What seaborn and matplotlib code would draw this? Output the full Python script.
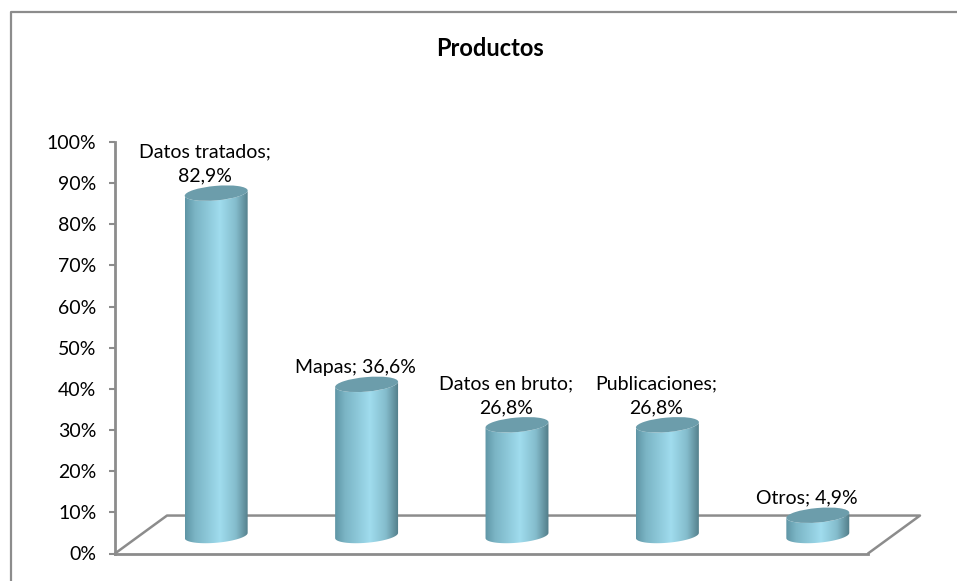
import numpy as np
import pandas as pd
import seaborn as sns
import matplotlib.pyplot as plt
from matplotlib.colors import LinearSegmentedColormap
from matplotlib.lines import Line2D
from matplotlib.patches import Ellipse
from matplotlib.path import Path
from matplotlib.transforms import IdentityTransform

categories = ["Datos tratados", "Mapas", "Datos en bruto", "Publicaciones", "Otros"]
values = [82.9, 36.6, 26.8, 26.8, 4.9]
labels = ["Datos tratados;\n82,9%", "Mapas; 36,6%", "Datos en bruto;\n26,8%", "Publicaciones;\n26,8%", "Otros; 4,9%"]
yticks = [0, 10, 20, 30, 40, 50, 60, 70, 80, 90, 100]
ytick_labels = ["0%", "10%", "20%", "30%", "40%", "50%", "60%", "70%", "80%", "90%", "100%"]

W, H = 957, 581
GRAY = "#8c8c8c"
ELL_H = 14.5
ELL_ANGLE = 5

sns.set_style("white")
plt.rcParams["font.family"] = ["Lato", "DejaVu Sans"]

fig = plt.figure(figsize=(W / 100, H / 100), dpi=100)
fig.patch.set_facecolor("white")

# only the top and left of the chart frame fall inside the picture
fig.add_artist(Line2D([10.5 / W, 10.5 / W, 1], [0, 1 - 11.5 / H, 1 - 11.5 / H], transform=fig.transFigure,
                      color=GRAY, linewidth=1.6))
fig.text(490.5 / W, 1 - 56 / H, "Productos", ha="center", va="baseline", fontsize=17, fontweight="bold", color="black")

# axis and floor
ax = fig.add_axes([115 / W, 1 - 553.5 / H, 753 / W, 411.5 / H])
ax.set_xlim(0, 1)
ax.set_ylim(0, 100)
ax.set_xticks([])
ax.set_yticks(yticks, ytick_labels)
ax.tick_params(axis="y", left=True, length=4.5, width=1.5, color=GRAY, pad=9, labelsize=14, labelcolor="black")
sns.despine(ax=ax)
ax.spines["left"].set(color=GRAY, linewidth=2)
ax.spines["bottom"].set(color=GRAY, linewidth=2)
dx, dy = 52 / 753, 38 / 412
ax.plot([0, dx, 1 + dx, 1], [0, dy, dy, 0], transform=ax.transAxes, color=GRAY, lw=1.8, clip_on=False)

# bars sit on the floor, on their own transparent axes
bar_ax = fig.add_axes([141 / W, 1 - (535.5 + 41.3) / H, 752 / W, 454.3 / H])
bar_ax.patch.set_alpha(0)
df = pd.DataFrame({"cat": categories, "val": values})
sns.barplot(data=df, x="cat", y="val", color="#8fcadb", width=0.42, ax=bar_ax, saturation=1)
bar_ax.set_xlim(-0.5, 4.5)
bar_ax.set_ylim(-10, 100)
bar_ax.axis("off")

side = LinearSegmentedColormap.from_list("side", [(0, "#5f95a5"), (0.15, "#7ab4c4"), (0.55, "#a0dcee"),
                                                  (0.8, "#84bccc"), (1, "#527c88")])


def ellipse_pts(cx, cy, a, b, t):
    th = np.deg2rad(ELL_ANGLE)
    return np.c_[cx + a * np.cos(t) * np.cos(th) - b * np.sin(t) * np.sin(th),
                 cy + a * np.cos(t) * np.sin(th) + b * np.sin(t) * np.cos(th)]


fig.canvas.draw()
to_px = bar_ax.transData
for bar, label in zip(bar_ax.patches, labels):
    x0, w, h = bar.get_x(), bar.get_width(), bar.get_height()
    (px0, py0), (px1, py1) = to_px.transform([(x0, 0), (x0 + w, h)])
    cx, a = (px0 + px1) / 2, (px1 - px0) / 2
    t = np.linspace(np.pi, 2 * np.pi, 40)
    low = ellipse_pts(cx, py0, a, ELL_H / 2, t)
    up = ellipse_pts(cx, py1, a, ELL_H / 2, t[::-1])
    clip = Path(np.r_[low, up, low[:1]], closed=True)
    bar.set_visible(False)
    im = bar_ax.imshow(np.linspace(0, 1, 128)[None, :], cmap=side, aspect="auto", zorder=3,
                       extent=(x0, x0 + w, -10, h + 5))
    im.set_clip_path(clip, IdentityTransform())
    bar_ax.add_artist(Ellipse((cx, py1), 2 * a, ELL_H, angle=ELL_ANGLE, transform=IdentityTransform(),
                              facecolor="#6c9dab", edgecolor="none", zorder=4, clip_on=False))
    bar_ax.annotate(label, xy=(x0 + w / 2, h), xytext=(-8, 8.3), textcoords="offset points", ha="center",
                    va="baseline", fontsize=14, color="black", zorder=5, linespacing=1.5, annotation_clip=False)
bar_ax.set_xlim(-0.5, 4.5)
bar_ax.set_ylim(-10, 100)

fig.savefig("out.png", dpi=100)
